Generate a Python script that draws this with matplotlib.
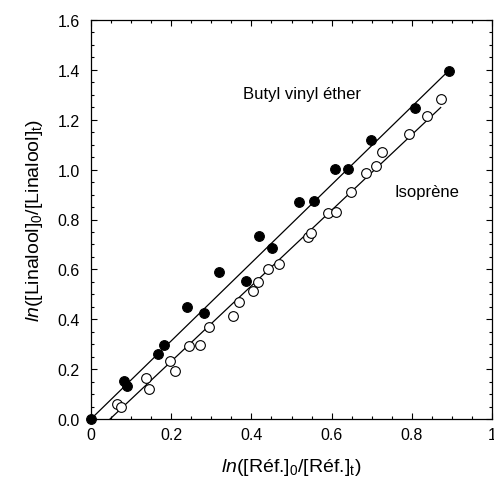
import matplotlib
matplotlib.use("Agg")
import matplotlib.pyplot as plt
import numpy as np
from matplotlib.ticker import MultipleLocator, FixedLocator, FixedFormatter

plt.rcParams['font.family'] = ['Liberation Sans', 'DejaVu Sans']
plt.rcParams['mathtext.fontset'] = 'custom'
plt.rcParams['mathtext.rm'] = 'Liberation Sans'
plt.rcParams['mathtext.it'] = 'Liberation Sans:italic'

# Butyl vinyl ether (filled)
bve_x = [0, 0.083, 0.091, 0.166, 0.183, 0.239, 0.283, 0.32, 0.387, 0.418, 0.452,
         0.518, 0.556, 0.609, 0.641, 0.699, 0.809, 0.893]
bve_y = [0, 0.154, 0.134, 0.261, 0.298, 0.448, 0.424, 0.591, 0.555, 0.735, 0.686,
         0.869, 0.873, 1.002, 1.002, 1.12, 1.248, 1.395]
# Isoprene (open)
iso_x = [0.064, 0.074, 0.138, 0.145, 0.1975, 0.21, 0.245, 0.2725, 0.295, 0.353, 0.37,
         0.403, 0.416, 0.441, 0.47, 0.541, 0.5475, 0.591, 0.61, 0.649, 0.687, 0.71,
         0.725, 0.7925, 0.838, 0.874]
iso_y = [0.059, 0.049, 0.163, 0.12, 0.231, 0.194, 0.294, 0.298, 0.37, 0.414, 0.47,
         0.515, 0.551, 0.601, 0.621, 0.729, 0.746, 0.826, 0.832, 0.911, 0.986, 1.016,
         1.072, 1.143, 1.216, 1.282]

# regression lines (slope, intercept, x range)
bve_slope, bve_icpt, bve_xr = 1.566, 0.0, (0.0, 0.894)
iso_slope, iso_icpt, iso_xr = 1.515, -0.072, (0.0475, 0.872)

xticks = [0, 0.2, 0.4, 0.6, 0.8, 1]
xticklabels = ['0', '0.2', '0.4', '0.6', '0.8', '1']
yticks = [0.0, 0.2, 0.4, 0.6, 0.8, 1.0, 1.2, 1.4, 1.6]
yticklabels = ['0.0', '0.2', '0.4', '0.6', '0.8', '1.0', '1.2', '1.4', '1.6']

fig = plt.figure(figsize=(4.94, 4.81), dpi=100)
ax = fig.add_axes([91/494, 61/481, 401/494, 399/481])

for slope, icpt, xr in [(bve_slope, bve_icpt, bve_xr), (iso_slope, iso_icpt, iso_xr)]:
    xs = np.array(xr)
    ax.plot(xs, slope * xs + icpt, color='black', lw=0.9, zorder=2)

ax.plot(bve_x, bve_y, 'o', ms=7, mfc='black', mec='black', mew=0.8, zorder=3, clip_on=False)
ax.plot(iso_x, iso_y, 'o', ms=7, mfc='white', mec='black', mew=0.8, zorder=3, clip_on=False)

ax.set_xlim(0, 1)
ax.set_ylim(0, 1.6)
ax.xaxis.set_major_locator(FixedLocator(xticks))
ax.xaxis.set_major_formatter(FixedFormatter(xticklabels))
ax.yaxis.set_major_locator(FixedLocator(yticks))
ax.yaxis.set_major_formatter(FixedFormatter(yticklabels))
ax.xaxis.set_minor_locator(MultipleLocator(0.05))
ax.yaxis.set_minor_locator(MultipleLocator(0.05))
ax.tick_params(which='both', direction='in', top=True, right=True, labelsize=11.5, width=0.8)
ax.tick_params(which='major', length=4.5)
ax.tick_params(axis='x', which='major', pad=6)
ax.tick_params(axis='y', which='major', pad=8)
ax.tick_params(which='minor', length=2.5)
for s in ax.spines.values():
    s.set_linewidth(0.9)

ax.set_xlabel(r'$\mathit{ln}$([Réf.]$_0$/[Réf.]$_\mathrm{t}$)', fontsize=14, labelpad=10)
ax.set_ylabel(r'$\mathit{ln}$([Linalool]$_0$/[Linalool]$_\mathrm{t}$)', fontsize=14, labelpad=9)

ax.text(0.378, 1.305, 'Butyl vinyl éther', fontsize=12, ha='left', va='center')
ax.text(0.758, 0.913, 'Isoprène', fontsize=12, ha='left', va='center')

fig.savefig('out.png', dpi=100)
